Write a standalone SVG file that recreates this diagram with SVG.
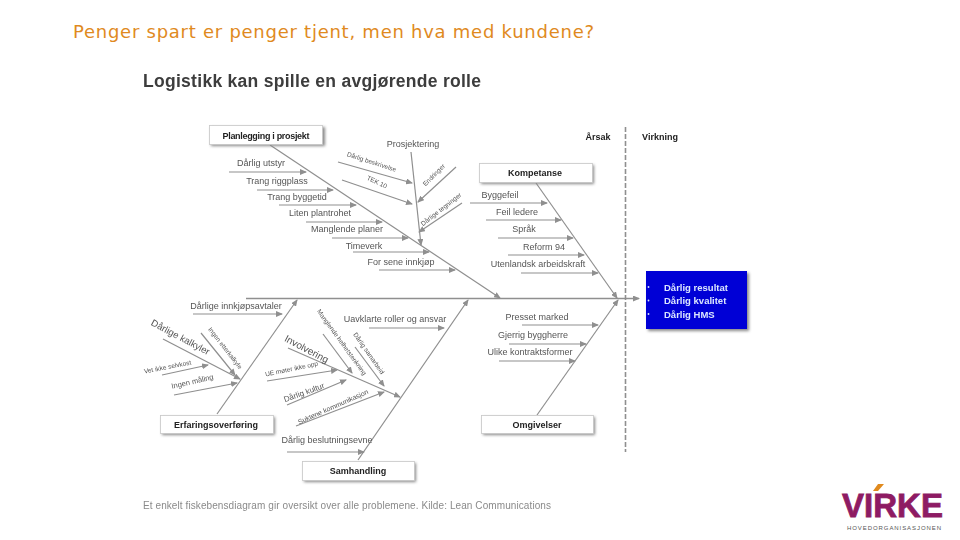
<svg xmlns="http://www.w3.org/2000/svg" width="960" height="540" viewBox="0 0 960 540">
<style>
text{font-family:"Liberation Sans",Arial,sans-serif;fill:#555}
.t{font-size:9px;text-anchor:middle}
.s{font-size:6.5px;text-anchor:middle}
.b{font-size:9px;font-weight:700;fill:#222;text-anchor:middle}
.box{fill:#fff;stroke:#c8c8c8;stroke-width:.8}
.sh{fill:#888;filter:url(#blur2)}
.w{font-size:9.5px;font-weight:700;fill:#dbe6ff}
.c line{stroke:#8f8f8f;stroke-width:1.2;marker-end:url(#a)}
.c line.n{marker-end:none}
</style>
<defs>
<marker id="a" markerWidth="7" markerHeight="6" refX="6" refY="3" orient="auto" markerUnits="userSpaceOnUse"><path d="M0 0L7 3L0 6Z" fill="#8f8f8f"/></marker>
<filter id="blur2" x="-20%" y="-50%" width="140%" height="200%"><feGaussianBlur stdDeviation="1.5"/></filter>
<filter id="soft" x="-5%" y="-5%" width="110%" height="110%"><feGaussianBlur stdDeviation="0.35"/></filter>
</defs>
<rect width="960" height="540" fill="#fff"/>
<text id="title" x="73" y="38" textLength="521" style="font-family:'DejaVu Sans',sans-serif;font-size:18px;fill:#e08a1e">Penger spart er penger tjent, men hva med kundene?</text>
<g filter="url(#soft)">
<text id="heading" x="143" y="87" textLength="338" style="font-size:17.500px;font-weight:700;fill:#3c3c3c">Logistikk kan spille en avgjørende rolle</text>
<g id="connectors" class="c">
<line x1="270" y1="145" x2="500" y2="298"/>
<line x1="229" y1="172" x2="306" y2="172"/>
<line x1="257" y1="190" x2="333" y2="190"/>
<line x1="279" y1="205" x2="356" y2="205"/>
<line x1="306" y1="222" x2="382" y2="222"/>
<line x1="332" y1="238" x2="408" y2="238"/>
<line x1="353" y1="252" x2="429" y2="252"/>
<line x1="379" y1="270" x2="455" y2="270"/>
<line x1="411" y1="152" x2="421" y2="245"/>
<line x1="338" y1="162" x2="412" y2="183"/>
<line x1="342" y1="180" x2="412" y2="204"/>
<line x1="456" y1="167" x2="418" y2="202"/>
<line x1="462" y1="203" x2="419" y2="232"/>
<line x1="246" y1="298.500" x2="639" y2="298.500" style="stroke-width:1.600"/>
<line x1="217" y1="414" x2="297" y2="300"/>
<line x1="193" y1="314" x2="282" y2="314"/>
<line x1="163" y1="339" x2="240" y2="379"/>
<line x1="201" y1="333" x2="235" y2="375"/>
<line x1="162" y1="375" x2="208" y2="365"/>
<line x1="174" y1="395" x2="237" y2="383"/>
<line x1="358" y1="460" x2="468" y2="300"/>
<line x1="369" y1="328" x2="444" y2="328"/>
<line x1="287" y1="452" x2="364" y2="452"/>
<line x1="288" y1="348" x2="400" y2="397"/>
<line x1="323" y1="334" x2="352" y2="373"/>
<line x1="355" y1="347" x2="384" y2="386"/>
<line x1="267" y1="381" x2="337" y2="370"/>
<line x1="287" y1="405" x2="346" y2="380"/>
<line x1="296" y1="426" x2="384" y2="392"/>
<line x1="536" y1="183" x2="617" y2="298"/>
<line x1="470" y1="203" x2="547" y2="203"/>
<line x1="486" y1="220" x2="561" y2="220"/>
<line x1="498" y1="238" x2="573" y2="238"/>
<line x1="508" y1="255" x2="584" y2="255"/>
<line x1="521" y1="273" x2="598" y2="273"/>
<line x1="537" y1="415" x2="618" y2="300"/>
<line x1="522" y1="325" x2="598" y2="325"/>
<line x1="509" y1="344" x2="586" y2="344"/>
<line x1="499" y1="361" x2="575" y2="361"/>
<line class="n" x1="625.500" y1="127" x2="625.500" y2="452" style="stroke-width:1.600;stroke-dasharray:5 2"/>
</g>
<g id="planlegging"><rect class="sh" x="211" y="127" width="114" height="19"/><rect class="box" x="209.500" y="125.500" width="113" height="19"/><text class="b" x="266" y="138.500" textLength="87">Planlegging i prosjekt</text></g>
<g id="kompetanse"><rect class="sh" x="481" y="165" width="113" height="19"/><rect class="box" x="479.500" y="163.500" width="113" height="19"/><text class="b" x="535" y="176">Kompetanse</text></g>
<g id="erfaring"><rect class="sh" x="162" y="417" width="113" height="18"/><rect class="box" x="160.500" y="415.500" width="113" height="18"/><text class="b" x="216" y="428">Erfaringsoverføring</text></g>
<g id="omgivelser"><rect class="sh" x="483" y="417" width="112" height="18"/><rect class="box" x="481.500" y="415.500" width="112" height="18"/><text class="b" x="537" y="428">Omgivelser</text></g>
<g id="samhandling"><rect class="sh" x="304" y="463" width="112" height="19"/><rect class="box" x="302.500" y="461.500" width="112" height="19"/><text class="b" x="358" y="474">Samhandling</text></g>
<g id="virkning"><rect class="sh" x="648" y="273" width="101" height="58"/><rect x="646" y="271" width="101" height="58" fill="#0404d6"/>
<text class="w" x="664" y="291">Dårlig resultat</text><text class="w" x="664" y="304">Dårlig kvalitet</text><text class="w" x="664" y="318">Dårlig HMS</text>
<circle cx="648.500" cy="287" r=".9" fill="#dbe6ff"/><circle cx="648.500" cy="300.500" r=".9" fill="#dbe6ff"/><circle cx="648.500" cy="314" r=".9" fill="#dbe6ff"/></g>
<g id="labels">
<text class="b" x="598" y="140">Årsak</text>
<text class="b" x="660" y="140">Virkning</text>
<text class="t" x="261" y="166">Dårlig utstyr</text>
<text class="t" x="277" y="184">Trang riggplass</text>
<text class="t" x="297" y="200">Trang byggetid</text>
<text class="t" x="320" y="216">Liten plantrohet</text>
<text class="t" x="347" y="232">Manglende planer</text>
<text class="t" x="364" y="249">Timeverk</text>
<text class="t" x="401" y="265">For sene innkjøp</text>
<text class="t" x="413" y="147">Prosjektering</text>
<text class="s" transform="translate(371 164) rotate(18)">Dårlig beskrivelse</text>
<text class="s" transform="translate(376 184) rotate(25)">TEK 10</text>
<text class="s" transform="translate(435.500 176.500) rotate(-45)">Endringer</text>
<text class="s" transform="translate(442.500 211) rotate(-38)">Dårlige tegninger</text>
<text class="t" x="236" y="309">Dårlige innkjøpsavtaler</text>
<text class="t" transform="translate(179 340) rotate(28)" style="font-size:9.500px">Dårlige kalkyler</text>
<text class="s" transform="translate(223.500 349.500) rotate(52)">Ingen etterkalkyle</text>
<text class="s" transform="translate(168 369) rotate(-11)">Vet ikke selvkost</text>
<text class="s" transform="translate(193 384) rotate(-13)" style="font-size:7.500px">Ingen måling</text>
<text class="t" x="395" y="322">Uavklarte roller og ansvar</text>
<text class="t" x="327" y="443">Dårlig beslutningsevne</text>
<text class="t" transform="translate(305 352) rotate(28)" style="font-size:10px">Involvering</text>
<text class="s" transform="translate(340 343.500) rotate(54)">Manglende helhetstenkning</text>
<text class="s" transform="translate(367 354.500) rotate(55)">Dårlig samarbeid</text>
<text class="s" transform="translate(292 371) rotate(-12)">UE møter ikke opp</text>
<text class="s" transform="translate(305 395) rotate(-20)" style="font-size:8px">Dårlig kultur</text>
<text class="s" transform="translate(334 409) rotate(-24)" style="font-size:7px">Suktene kommunikasjon</text>
<text class="t" x="500" y="198">Byggefeil</text>
<text class="t" x="517" y="215">Feil ledere</text>
<text class="t" x="524" y="232">Språk</text>
<text class="t" x="544" y="250">Reform 94</text>
<text class="t" x="538" y="267">Utenlandsk arbeidskraft</text>
<text class="t" x="537" y="320">Presset marked</text>
<text class="t" x="533" y="338">Gjerrig byggherre</text>
<text class="t" x="530" y="355">Ulike kontraktsformer</text>
</g>
<text id="caption" x="143" y="509" textLength="408" style="font-size:10px;fill:#8a8a8a">Et enkelt fiskebensdiagram gir oversikt over alle problemene. Kilde: Lean Communications</text>
</g>
<g id="logo">
<text x="842" y="517" textLength="101" lengthAdjust="spacingAndGlyphs" style="font-size:33px;font-weight:700;fill:#8e1b63;stroke:#8e1b63;stroke-width:.8">VIRKE</text>
<polygon points="873,491 878,484 884,484 878,491" fill="#e08a1e"/>
<text x="847" y="529.500" textLength="94" style="font-size:6px;fill:#555">HOVEDORGANISASJONEN</text>
</g>
</svg>
